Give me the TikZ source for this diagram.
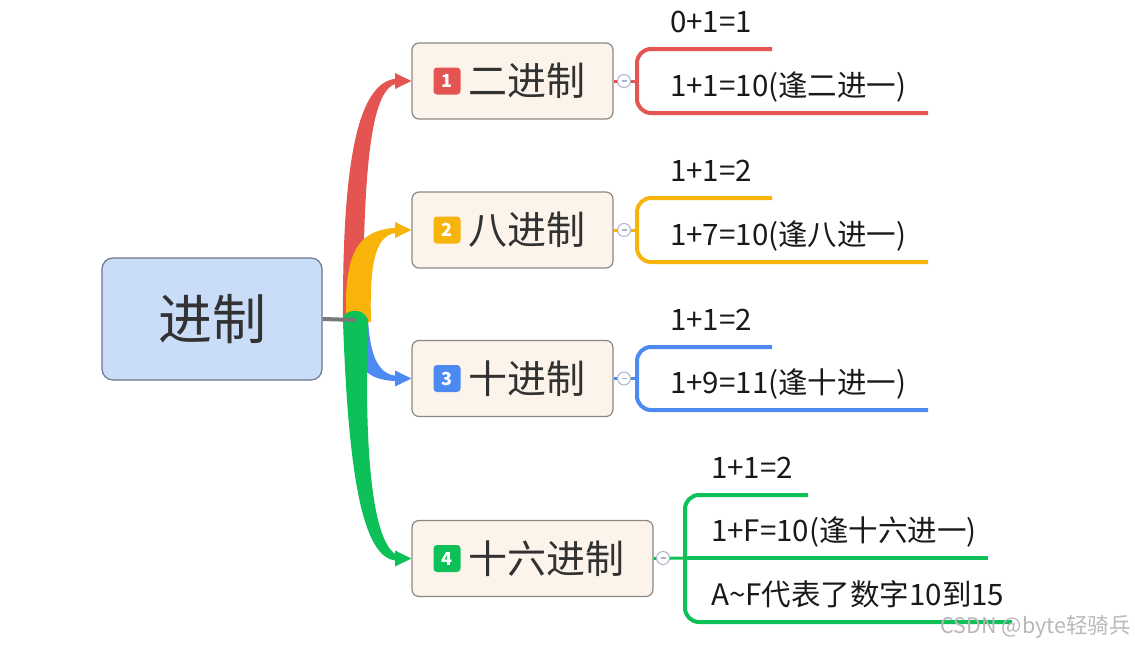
\documentclass[tikz,border=0pt]{standalone}
\usepackage{fontspec}
\setmainfont{Noto Sans CJK SC}
\definecolor{cred}{RGB}{228,84,80}
\definecolor{cyel}{RGB}{248,180,10}
\definecolor{cblue}{RGB}{76,138,242}
\definecolor{cgreen}{RGB}{14,192,88}
\definecolor{cgray}{RGB}{120,120,120}
\definecolor{rootfill}{RGB}{201,220,248}
\definecolor{rootedge}{RGB}{108,120,142}
\definecolor{topicfill}{RGB}{252,243,234}
\definecolor{topicedge}{RGB}{140,136,132}
\definecolor{togglec}{RGB}{170,180,205}
\definecolor{labeltext}{RGB}{50,50,50}
\definecolor{leaftext}{RGB}{25,25,25}
\begin{document}
\begin{tikzpicture}[x=1pt,y=-1pt,
  rootbox/.style={draw=rootedge,fill=rootfill,rounded corners=11pt,line width=1.2pt,
    minimum width=220pt,minimum height=122pt,inner sep=0pt,text=labeltext,
    font=\fontsize{54}{54}\selectfont},
  topicbox/.style={draw=topicedge,fill=topicfill,rounded corners=7pt,line width=1.2pt,
    minimum height=76pt,inner sep=0pt},
  badge/.style={fill=#1,rounded corners=3.5pt,minimum size=27pt,inner sep=0pt,text=white,
    font=\fontsize{18}{18}\selectfont\bfseries},
  toplabel/.style={anchor=west,inner sep=0pt,text=labeltext,font=\fontsize{39}{39}\selectfont},
  toggle/.style={circle,draw=togglec,fill=white,line width=1pt,minimum size=13pt,inner sep=0pt,
    text=togglec},
  leaf/.style={anchor=base west,inner sep=0pt,text=leaftext,font=\fontsize{29.5}{29.5}\selectfont},
  bracket/.style={line width=4pt,rounded corners=14pt},
  stub/.style={line width=3pt}
]
\useasboundingbox (0,0) rectangle (1135,645);

% ---- branch arrows (tapered) ----
\fill[cred] (343,322) .. controls (342,160) and (358,80) .. (398,78.5) -- (398,83.5)
  .. controls (372,86) and (363,160) .. (363,322) -- cycle;
\fill[cyel] (346,322) .. controls (344,250) and (358,230) .. (398,227.5) -- (398,232.5)
  .. controls (378,234) and (369,255) .. (371,322) -- cycle;
\fill[cblue] (350,318) .. controls (350,368) and (368,381) .. (398,381) -- (398,376)
  .. controls (380,375) and (370,360) .. (368,318) -- cycle;
\fill[cgreen] (343,322) .. controls (342,315) and (346,311) .. (355,311)
  .. controls (364,311) and (368,316) .. (368,325)
  .. controls (364,450) and (372,545) .. (398,555.5) -- (398,560.5)
  .. controls (360,562) and (348,460) .. (343,322) -- cycle;

% ---- root ----
\node[rootbox] (root) at (212,319) {进制};
\coordinate (hub) at (356,320);
\draw[cgray,line width=4pt] (root.east) -- (hub);

% ---- topic boxes ----
\node[topicbox,minimum width=201pt] (n1) at (512.5,81) {};
\node[topicbox,minimum width=201pt] (n2) at (512.5,230) {};
\node[topicbox,minimum width=201pt] (n3) at (512.5,378.5) {};
\node[topicbox,minimum width=241pt] (n4) at (532.5,558.5) {};

\node[badge=cred] (b1) at (447,81) {1};
\node[badge=cyel] (b2) at (447,230) {2};
\node[badge=cblue] (b3) at (447,378.5) {3};
\node[badge=cgreen] (b4) at (447,558.5) {4};

\node[toplabel] (l1) at (468,81) {二进制};
\node[toplabel] (l2) at (468,230) {八进制};
\node[toplabel] (l3) at (468,378.5) {十进制};
\node[toplabel] (l4) at (468,558.5) {十六进制};

% ---- arrow heads ----
\fill[cred] (395,73) -- (n1.west) -- (395,89) -- cycle;
\fill[cyel] (395,222) -- (n2.west) -- (395,238) -- cycle;
\fill[cblue] (395,370.5) -- (n3.west) -- (395,386.5) -- cycle;
\fill[cgreen] (395,550.5) -- (n4.west) -- (395,566.5) -- cycle;

% ---- toggles ----
\coordinate (j1) at (638,81);
\coordinate (j2) at (638,230);
\coordinate (j3) at (638,378.5);
\coordinate (j4) at (686,558);
\draw[cred,stub] (n1.east) -- (j1);
\draw[cyel,stub] (n2.east) -- (j2);
\draw[cblue,stub] (n3.east) -- (j3);
\draw[cgreen,stub] (n4.east) -- (j4);
\node[toggle] (t1) at (624,81) {\rule{5pt}{1.2pt}};
\node[toggle] (t2) at (624,230) {\rule{5pt}{1.2pt}};
\node[toggle] (t3) at (624,378.5) {\rule{5pt}{1.2pt}};
\node[toggle] (t4) at (663,558) {\rule{5pt}{1.2pt}};

% ---- brackets ----
\coordinate (r1a) at (772,49);  \coordinate (r1b) at (928,113);
\draw[cred,bracket] (r1a) -| (637,113) -- (r1b);
\coordinate (y1a) at (772,198); \coordinate (y1b) at (928,262);
\draw[cyel,bracket] (y1a) -| (637,262) -- (y1b);
\coordinate (u1a) at (772,347); \coordinate (u1b) at (928,410);
\draw[cblue,bracket] (u1a) -| (637,410) -- (u1b);
\coordinate (g1a) at (808,495); \coordinate (g1b) at (1012,622); \coordinate (g1m) at (988,558);
\draw[cgreen,bracket] (g1a) -| (685,622) -- (g1b);
\draw[cgreen,line width=4pt] (j4) -- (g1m);

% ---- leaf texts ----
\node[leaf] (a1) at (670,32) {0+1=1};
\node[leaf] (a2) at (670,96) {1+1=10(逢二进一)};
\node[leaf] (c1) at (670,181) {1+1=2};
\node[leaf] (c2) at (670,245) {1+7=10(逢八进一)};
\node[leaf] (d1) at (670,330) {1+1=2};
\node[leaf] (d2) at (670,393) {1+9=11(逢十进一)};
\node[leaf] (e1) at (711,478) {1+1=2};
\node[leaf] (e2) at (711,541) {1+F=10(逢十六进一)};
\node[leaf] (e3) at (711,605) {A\char`~F代表了数字10到15};

% ---- watermark ----
\node[anchor=east,inner sep=0pt,text=black!28,font=\fontsize{21.5}{21.5}\selectfont] (wm) at (1131,627) {CSDN @byte轻骑兵};
\end{tikzpicture}
\end{document}
